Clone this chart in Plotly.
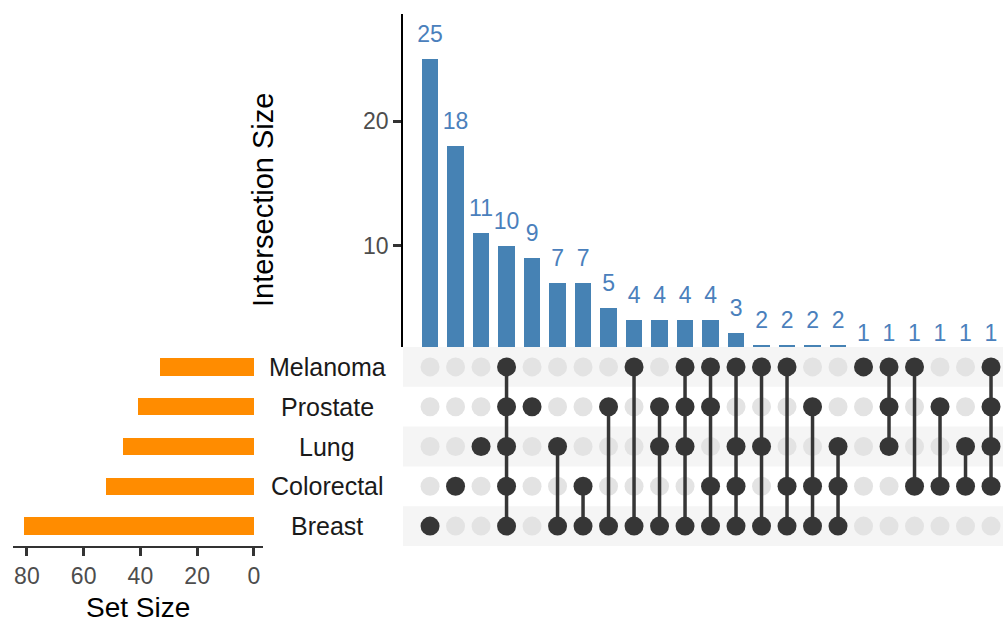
import plotly.graph_objects as go

# ---------------- data ----------------
sets = ["Breast", "Colorectal", "Lung", "Prostate", "Melanoma"]  # bottom -> top rows
set_sizes = [81, 52, 46, 41, 33]

intersection_sizes = [25, 18, 11, 10, 9, 7, 7, 5, 4, 4, 4, 4, 3, 2, 2, 2, 2, 1, 1, 1, 1, 1, 1]
intersection_members = [
    ["Breast"],
    ["Colorectal"],
    ["Lung"],
    ["Melanoma", "Prostate", "Lung", "Colorectal", "Breast"],
    ["Prostate"],
    ["Lung", "Breast"],
    ["Colorectal", "Breast"],
    ["Prostate", "Breast"],
    ["Melanoma", "Breast"],
    ["Prostate", "Lung", "Breast"],
    ["Melanoma", "Prostate", "Lung", "Breast"],
    ["Melanoma", "Prostate", "Colorectal", "Breast"],
    ["Melanoma", "Lung", "Colorectal", "Breast"],
    ["Melanoma", "Lung", "Breast"],
    ["Melanoma", "Colorectal", "Breast"],
    ["Prostate", "Colorectal", "Breast"],
    ["Lung", "Colorectal", "Breast"],
    ["Melanoma"],
    ["Melanoma", "Prostate", "Lung"],
    ["Melanoma", "Colorectal"],
    ["Prostate", "Colorectal"],
    ["Lung", "Colorectal"],
    ["Melanoma", "Prostate", "Lung", "Colorectal"],
]
intersection_tick_values = [10, 20]
set_size_tick_values = [0, 20, 40, 60, 80]

# ---------------- styling ----------------
W, H = 1003, 623
BAR_BLUE = "#4682B4"
LABEL_BLUE = "#4A80BC"
ORANGE = "#FF8C00"
DOT_DARK = "#363636"
DOT_LIGHT = "#E3E3E3"
STRIPE = "#F5F5F5"
TICK_GRAY = "#4D4D4D"
FONT = "Liberation Sans, Arial, sans-serif"


def fx(px):
    return px / W


def fy(py):
    return 1 - py / H


cols = list(range(len(intersection_sizes)))
row_of = {s: i for i, s in enumerate(sets)}

# top panel geometry: the bar axis starts just below 2 (as in the reference)
Y_LO, Y_HI = 1.85, 28.6
TOP_PX, BOT_PX = 14, 347
px_per_unit = (BOT_PX - TOP_PX) / (Y_HI - Y_LO)
# label axis: same scale but extended down to 0 so labels of size-1 bars exist
LBL_BOT_PX = BOT_PX + Y_LO * px_per_unit

fig = go.Figure()

# top intersection bars
fig.add_trace(go.Bar(
    x=cols, y=intersection_sizes, width=0.64,
    marker=dict(color=BAR_BLUE, line=dict(width=0)),
    xaxis="x", yaxis="y", showlegend=False, hoverinfo="x+y",
))

# value labels above bars
fig.add_trace(go.Scatter(
    x=cols, y=intersection_sizes, mode="markers+text",
    text=[str(v) for v in intersection_sizes], textposition="top center",
    textfont=dict(size=23, color=LABEL_BLUE, family=FONT),
    marker=dict(size=16, color="rgba(0,0,0,0)", line=dict(width=0)),
    cliponaxis=False, xaxis="x", yaxis="y4", showlegend=False, hoverinfo="skip",
))

# matrix dots and connectors
ex, ey, fxs, fys = [], [], [], []
lx, ly = [], []
for c, members in zip(cols, intersection_members):
    rows = [row_of[m] for m in members]
    for r in range(len(sets)):
        if r in rows:
            fxs.append(c)
            fys.append(r)
        else:
            ex.append(c)
            ey.append(r)
    if len(rows) > 1:
        lx += [c, c, None]
        ly += [min(rows), max(rows), None]

fig.add_trace(go.Scatter(
    x=ex, y=ey, mode="markers", xaxis="x2", yaxis="y2",
    marker=dict(size=19, color=DOT_LIGHT, line=dict(width=0)),
    showlegend=False, hoverinfo="skip",
))
fig.add_trace(go.Scatter(
    x=lx, y=ly, mode="lines", xaxis="x2", yaxis="y2",
    line=dict(color=DOT_DARK, width=3.5),
    showlegend=False, hoverinfo="skip",
))
fig.add_trace(go.Scatter(
    x=fxs, y=fys, mode="markers", xaxis="x2", yaxis="y2",
    marker=dict(size=19, color=DOT_DARK, line=dict(width=0)),
    showlegend=False, hoverinfo="skip",
))

# set size bars
fig.add_trace(go.Bar(
    x=set_sizes, y=list(range(len(sets))), orientation="h", width=0.44,
    marker=dict(color=ORANGE, line=dict(width=0)),
    xaxis="x3", yaxis="y3", showlegend=False, hoverinfo="x",
))

x_range = [-1.061, 22.47]
top_dom = [fy(BOT_PX), fy(TOP_PX)]
mat_dom = [fy(546), fy(347)]

shapes = []
for i in range(0, len(sets), 2):
    shapes.append(dict(
        type="rect", xref="paper", yref="y2",
        x0=fx(403), x1=1, y0=i - 0.5, y1=i + 0.5,
        fillcolor=STRIPE, line=dict(width=0), layer="below",
    ))

annotations = []
for i, s in enumerate(sets):
    annotations.append(dict(
        x=fx(327), y=i, xref="paper", yref="y2", text=s, showarrow=False,
        xanchor="center", yanchor="middle",
        font=dict(size=25, color="#1a1a1a", family=FONT),
    ))
annotations.append(dict(
    x=fx(263), y=fy(200), xref="paper", yref="paper", text="Intersection Size",
    showarrow=False, textangle=-90, xanchor="center", yanchor="middle",
    font=dict(size=29, color="black", family=FONT),
))
annotations.append(dict(
    x=fx(138), y=fy(607), xref="paper", yref="paper", text="Set Size",
    showarrow=False, xanchor="center", yanchor="middle",
    font=dict(size=28, color="black", family=FONT),
))

fig.update_layout(
    width=W, height=H,
    margin=dict(l=0, r=0, t=0, b=0),
    paper_bgcolor="white", plot_bgcolor="rgba(0,0,0,0)",
    font=dict(family=FONT),
    bargap=0,
    shapes=shapes,
    annotations=annotations,
    xaxis=dict(domain=[fx(403), 1], range=x_range, anchor="y", visible=False),
    yaxis=dict(
        domain=top_dom, range=[Y_LO, Y_HI], anchor="x",
        showline=True, linecolor="black", linewidth=1.5,
        ticks="outside", ticklen=8, tickwidth=2.5, tickcolor="#333333",
        tickvals=intersection_tick_values,
        tickfont=dict(size=23, color=TICK_GRAY, family=FONT),
        showgrid=False, zeroline=False,
    ),
    yaxis4=dict(
        domain=[fy(LBL_BOT_PX), fy(TOP_PX)], range=[0, Y_HI], anchor="x",
        visible=False, showgrid=False, zeroline=False,
    ),
    xaxis2=dict(domain=[fx(403), 1], range=x_range, anchor="y2", visible=False),
    yaxis2=dict(domain=mat_dom, range=[-0.5, 4.5], anchor="x2", visible=False),
    xaxis3=dict(
        domain=[fx(13), fx(263)], range=[84.9, -3.2], anchor="y3",
        showline=True, linecolor="#333333", linewidth=2,
        ticks="outside", ticklen=8, tickwidth=2.5, tickcolor="#333333",
        tickvals=set_size_tick_values,
        tickfont=dict(size=23, color=TICK_GRAY, family=FONT),
        showgrid=False, zeroline=False,
    ),
    yaxis3=dict(domain=mat_dom, range=[-0.5, 4.5], anchor="x3", visible=False),
)

fig.write_html(
    "out.html",
    config={"displayModeBar": False},
    post_script="document.body.style.margin='0';document.body.style.overflow='hidden';",
)
